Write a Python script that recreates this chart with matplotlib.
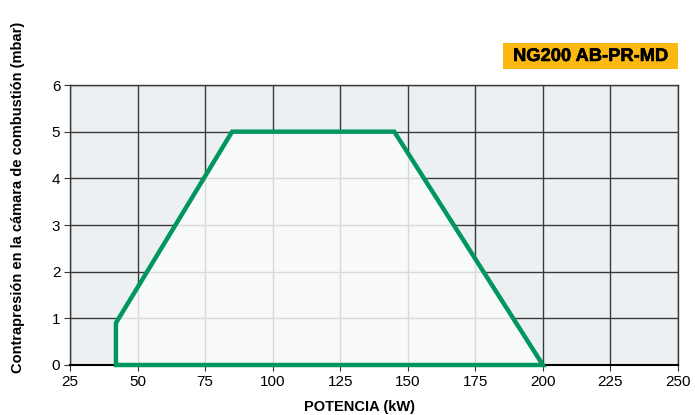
import matplotlib
matplotlib.use("Agg")
import matplotlib.pyplot as plt
from matplotlib.patches import Polygon, Rectangle
import matplotlib.patheffects as pe

plt.rcParams['font.family'] = ['Liberation Sans', 'DejaVu Sans']

# Data
power_kw = [42, 42, 85, 145, 200]
pressure_mbar = [0, 0.9, 5, 5, 0]
x_ticks = [25, 50, 75, 100, 125, 150, 175, 200, 225, 250]
y_ticks = [0, 1, 2, 3, 4, 5, 6]
title_text = "NG200 AB-PR-MD"
x_label = "POTENCIA (kW)"
y_label = "Contrapresión en la cámara de combustión (mbar)"

W, H = 695, 415
fig = plt.figure(figsize=(W/100, H/100), dpi=100)
ax = fig.add_axes([70/W, 1-365/H, 608/W, 280/H])
ax.set_xlim(25, 250)
ax.set_ylim(0, 6)
ax.set_facecolor('#edf0f3')

ax.set_xticks(x_ticks)
ax.set_yticks(y_ticks)
ax.tick_params(axis='both', labelsize=11, length=4, width=0.8, color='#333333', pad=3)
ax.grid(True, color='#3a3a3a', linewidth=1.0, zorder=1)
ax.set_axisbelow(True)
for s in ax.spines.values():
    s.set_color('#3a3a3a')
    s.set_linewidth(1.0)
ax.spines['bottom'].set_color('#000000')
ax.spines['bottom'].set_linewidth(1.5)

verts = list(zip(power_kw, pressure_mbar))
fill = Polygon(verts, closed=True, facecolor='#f8f9fb', edgecolor='none', zorder=2)
ax.add_patch(fill)

clip = Polygon(verts, closed=True, transform=ax.transData, facecolor='none', edgecolor='none')
ax.add_patch(clip)
for xv in x_ticks:
    ln, = ax.plot([xv, xv], [0, 6], color='#d9d9d9', linewidth=1.0, zorder=3)
    ln.set_clip_path(clip)
for yv in y_ticks:
    ln, = ax.plot([25, 250], [yv, yv], color='#d9d9d9', linewidth=1.0, zorder=3)
    ln.set_clip_path(clip)

outline = Polygon(verts, closed=True, facecolor='none', edgecolor='#00965e',
                  linewidth=3.2, joinstyle='miter', zorder=4, clip_on=False)
ax.add_patch(outline)

fig.text(359/W, 1-407/H, x_label, ha='center', va='center', fontsize=10.5, fontweight='bold')
fig.text(18/W, 1-197/H, y_label, ha='center', va='center', rotation=90,
         fontsize=10.5, fontweight='bold')

fig.patches.append(Rectangle((503/W, 1-69/H), 175/W, 26/H, transform=fig.transFigure,
                             facecolor='#fdb913', edgecolor='none'))
fig.text(591/W, 1-56.5/H, title_text, ha='center', va='center', fontsize=13.2,
         fontweight='bold', color='black',
         path_effects=[pe.withStroke(linewidth=0.4, foreground='black')])

fig.savefig('out.png', dpi=100)
